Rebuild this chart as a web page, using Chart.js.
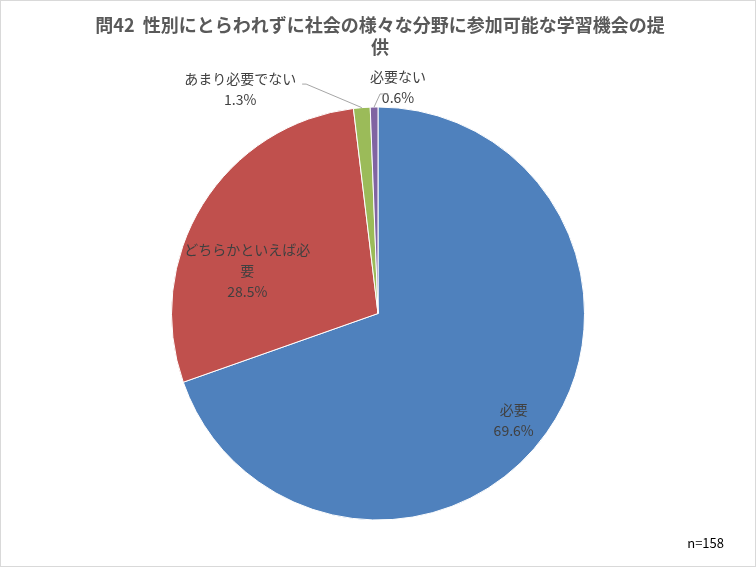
<!DOCTYPE html>
<html>
<head>
<meta charset="utf-8">
<script src="https://cdn.jsdelivr.net/npm/chart.js@4"></script>
<style>
  html, body { margin: 0; padding: 0; background: #fff; }
  #wrap { width: 756px; height: 567px; position: relative; }
</style>
</head>
<body>
<div id="wrap"><canvas id="pie"></canvas></div>
<script>
// data
const categories = ['必要', 'どちらかといえば必要', 'あまり必要でない', '必要ない'];
const percents = [69.6, 28.5, 1.3, 0.6];
const labelLines = [['必要'], ['どちらかといえば必', '要'], ['あまり必要でない'], ['必要ない']];
const colors = ['#4F81BD', '#C0504D', '#9BBB59', '#8064A2'];
const titleLines = ['問42  性別にとらわれずに社会の様々な分野に参加可能な学習機会の提', '供'];
const sampleNote = 'n=158';

// where each label block sits, relative to the pie centre (in radius units)
const labelPos = [
    { dx: 0.657, dy: 0.517 },
    { dx: -0.633, dy: -0.208 },
    { dx: -0.667, dy: -1.087, leader: true, knee: { dx: -0.348, dy: -1.111 } },
    { dx: 0.097, dy: -1.097, leader: true, knee: { dx: 0.010, dy: -1.063 } }
];

const JP = '"Noto Sans CJK JP", "Noto Sans", sans-serif';

const decor = {
    id: 'decor',
    beforeDraw(chart) {
        const ctx = chart.ctx;
        ctx.save();
        ctx.fillStyle = '#fff';
        ctx.fillRect(0, 0, chart.width, chart.height);
        ctx.strokeStyle = '#d9d9d9';
        ctx.lineWidth = 1;
        ctx.strokeRect(0.5, 0.5, chart.width - 1, chart.height - 1);
        ctx.restore();
    },
    afterDraw(chart) {
        const ctx = chart.ctx;
        const arcs = chart.getDatasetMeta(0).data;
        ctx.save();
        // title
        ctx.fillStyle = '#595959';
        ctx.font = 'bold 18px ' + JP;
        ctx.textAlign = 'center';
        ctx.textBaseline = 'middle';
        ctx.fillText(titleLines[0], 380, 25);
        ctx.fillText(titleLines[1], 380, 47);

        // data labels
        ctx.font = '14px ' + JP;
        ctx.fillStyle = '#404040';
        arcs.forEach(function (arc, i) {
            const r = arc.outerRadius;
            const p = labelPos[i];
            const lines = labelLines[i].concat([percents[i].toFixed(1) + '%']);
            const lh = 21;
            const cx = arc.x + p.dx * r;
            const cy = arc.y + p.dy * r;
            const top = cy - (lines.length - 1) * lh / 2;
            lines.forEach(function (t, k) {
                ctx.fillText(t, cx, top + k * lh);
            });
            if (p.leader) {
                const mid = (arc.startAngle + arc.endAngle) / 2;
                const ex = arc.x + Math.cos(mid) * r;
                const ey = arc.y + Math.sin(mid) * r;
                const kx = arc.x + p.knee.dx * r;
                const ky = arc.y + p.knee.dy * r;
                const side = kx < ex ? -4 : 8;
                ctx.strokeStyle = '#a6a6a6';
                ctx.lineWidth = 1;
                ctx.beginPath();
                ctx.moveTo(ex, ey);
                ctx.lineTo(kx, ky);
                ctx.lineTo(kx + side, ky);
                ctx.stroke();
            }
        });

        // sample size
        ctx.font = '13px ' + JP;
        ctx.textAlign = 'right';
        ctx.fillStyle = '#000';
        ctx.fillText(sampleNote, 724, 543);
        ctx.restore();
    }
};

new Chart(document.getElementById('pie'), {
    type: 'pie',
    data: {
        labels: categories,
        datasets: [{
            data: percents,
            backgroundColor: colors,
            borderColor: '#ffffff',
            borderWidth: 1
        }]
    },
    options: {
        responsive: true,
        maintainAspectRatio: false,
        animation: false,
        layout: { padding: { top: 106, bottom: 46, left: 171, right: 171 } },
        plugins: {
            legend: { display: false },
            title: { display: false },
            tooltip: { enabled: false }
        }
    },
    plugins: [decor]
});
</script>
</body>
</html>
